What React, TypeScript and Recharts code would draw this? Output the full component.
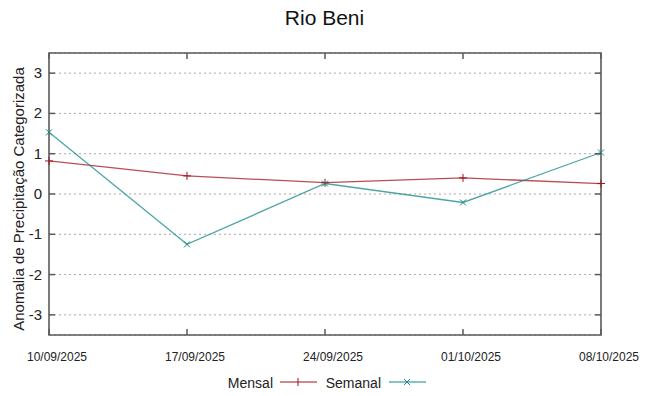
import { LineChart, Line, XAxis, YAxis, CartesianGrid, ReferenceArea } from 'recharts'

// values
const dates = ['10/09/2025', '17/09/2025', '24/09/2025', '01/10/2025', '08/10/2025']
const mensal = [0.82, 0.45, 0.28, 0.4, 0.26]
const semanal = [1.53, -1.25, 0.26, -0.21, 1.03]
const yTicks = [-3, -2, -1, 0, 1, 2, 3]

const data = dates.map((d, i) => ({ date: d, mensal: mensal[i], semanal: semanal[i] }))

const W = 649
const H = 396
const LEFT = 49
const RIGHT = 601
const TOP = 53
const BOTTOM = 335
const RED = '#a0141c'
const TEAL = '#138787'
const FRAME = '#5a5a5a'
const FONT = '"Liberation Sans", Arial, sans-serif'

function PlusDot(props: any) {
  const { cx, cy } = props
  if (cx == null || cy == null) return null
  return <path d={`M${cx - 4},${cy}h8M${cx},${cy - 4}v8`} stroke={RED} strokeWidth={1} fill="none" />
}

function CrossDot(props: any) {
  const { cx, cy } = props
  if (cx == null || cy == null) return null
  return <path d={`M${cx - 3},${cy - 3}l6,6M${cx - 3},${cy + 3}l6,-6`} stroke={TEAL} strokeWidth={1} fill="none" />
}

function YTick(props: any) {
  const { y, payload } = props
  return (
    <g>
      <text x={42} y={y} dy={5} textAnchor="end" fontSize={15} fill="#222" fontFamily={FONT}>
        {payload.value}
      </text>
      <line x1={LEFT} x2={LEFT + 6} y1={y} y2={y} stroke={FRAME} strokeWidth={1.5} />
      <line x1={RIGHT - 6} x2={RIGHT} y1={y} y2={y} stroke={FRAME} strokeWidth={1.5} />
    </g>
  )
}

function XTick(props: any) {
  const { x, payload } = props
  return (
    <g>
      <text x={x + 8} y={361} textAnchor="middle" fontSize={12} fill="#222" fontFamily={FONT}>
        {payload.value}
      </text>
      <line x1={x} x2={x} y1={BOTTOM} y2={BOTTOM - 6} stroke={FRAME} strokeWidth={1.5} />
      <line x1={x} x2={x} y1={TOP} y2={TOP + 6} stroke={FRAME} strokeWidth={1.5} />
    </g>
  )
}

function YLabel() {
  return (
    <text
      x={0}
      y={0}
      transform="translate(24, 199) rotate(-90)"
      textAnchor="middle"
      fontSize={15}
      fill="#222"
      fontFamily={FONT}
    >
      Anomalia de Precipitação Categorizada
    </text>
  )
}

export default function App() {
  return (
    <div style={{ position: 'absolute', left: 0, top: 0, width: W, height: H, background: '#fff', fontFamily: FONT }}>
      <div style={{ position: 'absolute', left: 0, top: 6, width: W, textAlign: 'center', fontSize: 21, lineHeight: '24px', color: '#111' }}>
        Rio Beni
      </div>
      <LineChart
        width={W}
        height={H}
        data={data}
        margin={{ top: TOP, right: W - RIGHT, bottom: H - BOTTOM - 30, left: LEFT - 40 }}
      >
        <CartesianGrid vertical={false} stroke="#a8a8a8" strokeDasharray="2 3" />
        <XAxis
          dataKey="date"
          height={30}
          axisLine={false}
          tickLine={false}
          tickSize={0}
          tickMargin={0}
          interval={0}
          tick={<XTick />}
        />
        <YAxis
          type="number"
          domain={[-3.5, 3.5]}
          ticks={yTicks}
          width={40}
          axisLine={false}
          tickLine={false}
          tickSize={0}
          tickMargin={0}
          tick={<YTick />}
          label={<YLabel />}
        />
        <ReferenceArea
          x1={dates[0]}
          x2={dates[dates.length - 1]}
          y1={-3.5}
          y2={3.5}
          fill="none"
          fillOpacity={0}
          stroke={FRAME}
          strokeWidth={1.6}
        />
        <Line
          type="linear"
          dataKey="mensal"
          stroke={RED}
          strokeOpacity={0.75}
          strokeWidth={1.3}
          dot={<PlusDot />}
          activeDot={false}
          isAnimationActive={false}
        />
        <Line
          type="linear"
          dataKey="semanal"
          stroke={TEAL}
          strokeOpacity={0.75}
          strokeWidth={1.3}
          dot={<CrossDot />}
          activeDot={false}
          isAnimationActive={false}
        />
      </LineChart>
      <svg style={{ position: 'absolute', left: 0, top: 372 }} width={W} height={22}>
        <text x={273} y={16} textAnchor="end" fontSize={14} fill="#222" fontFamily={FONT}>Mensal</text>
        <line x1={280} x2={317} y1={10} y2={10} stroke={RED} strokeWidth={1} />
        <path d="M298,6v8" stroke={RED} strokeWidth={1} />
        <text x={381} y={16} textAnchor="end" fontSize={14} fill="#222" fontFamily={FONT}>Semanal</text>
        <line x1={389} x2={426} y1={10} y2={10} stroke={TEAL} strokeWidth={1} />
        <path d="M404,7l6,6M404,13l6,-6" stroke={TEAL} strokeWidth={1} />
      </svg>
    </div>
  )
}
